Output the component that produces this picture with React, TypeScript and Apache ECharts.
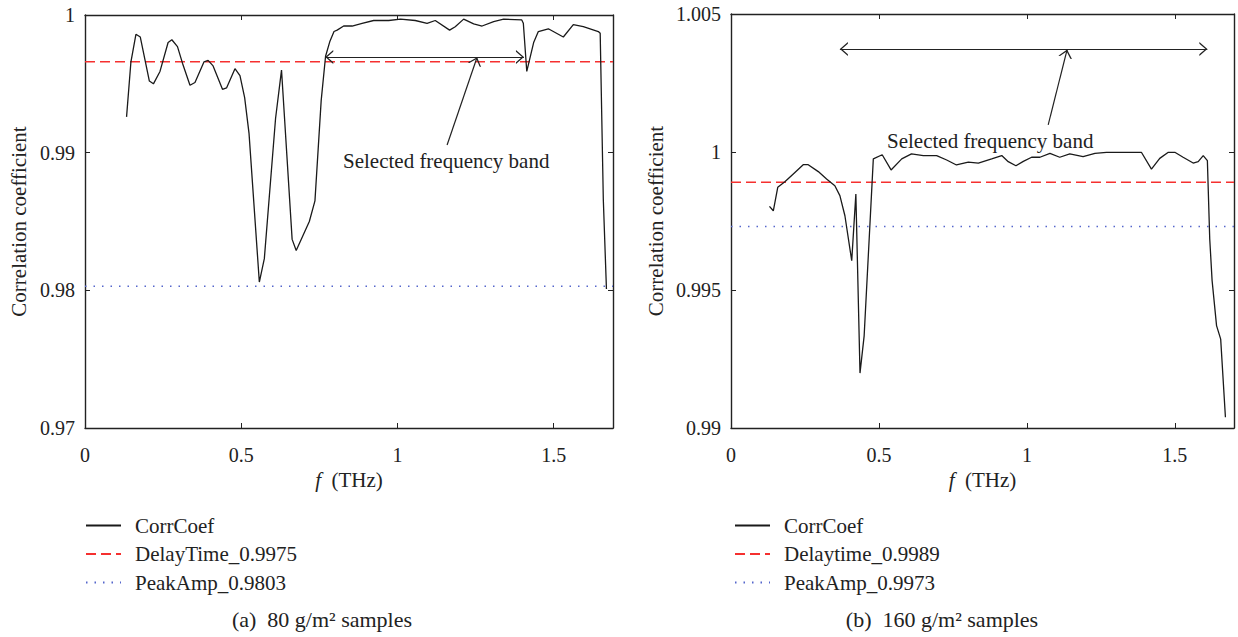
import React, { useEffect, useRef } from "react";
import * as echarts from "echarts";

// ---------- data (a) 80 g/m2 ----------
const leftFreq = [
  0.133, 0.147, 0.163, 0.177, 0.206, 0.219, 0.24, 0.266, 0.278, 0.296, 0.312, 0.336, 0.352, 0.381, 0.394,
  0.41, 0.44, 0.453, 0.48, 0.496, 0.511, 0.525, 0.558, 0.574, 0.61, 0.629, 0.663, 0.676, 0.718, 0.736,
  0.756, 0.77, 0.784, 0.797, 0.807, 0.828, 0.855, 0.887, 0.924, 0.972, 1.01, 1.057, 1.095, 1.121, 1.167,
  1.185, 1.212, 1.244, 1.271, 1.308, 1.34, 1.398, 1.403, 1.414, 1.436, 1.451, 1.483, 1.531, 1.563, 1.595,
  1.643, 1.649, 1.659, 1.669,
];
const leftCorr = [
  0.9926, 0.9966, 0.9986, 0.9984, 0.9952, 0.995, 0.9959, 0.998, 0.9982, 0.9977, 0.9965, 0.9949, 0.9951, 0.9966, 0.9967,
  0.9963, 0.9946, 0.9947, 0.9961, 0.9956, 0.994, 0.9914, 0.9806, 0.9823, 0.9925, 0.996, 0.9837, 0.9829, 0.985, 0.9865,
  0.9938, 0.997, 0.9981, 0.9988, 0.9989, 0.9992, 0.9992, 0.9994, 0.9996, 0.9996, 0.9997, 0.9996, 0.9994, 0.9996, 0.9989,
  0.99915, 0.9997, 0.99935, 0.9992, 0.99952, 0.9997, 0.99964, 0.9994, 0.9959, 0.998, 0.9988, 0.999, 0.9984, 0.9993, 0.99915,
  0.9988, 0.99867, 0.9866, 0.9801,
];
const leftNames = ["CorrCoef", "DelayTime_0.9975", "PeakAmp_0.9803"];
const leftDelayLevel = 0.9966;
const leftPeakLevel = 0.9803;
const leftXMax = 1.69;
const leftYMin = 0.97;
const leftYMax = 1;
const leftYStep = 0.01;
const leftBand = [0.769, 1.405];
const leftBandLevel = 0.99695;
const leftPointerFrom = [1.159, 0.99056];
const leftPointerTo = [1.255, 0.99693];

// ---------- data (b) 160 g/m2 ----------
const rightFreq = [
  0.13, 0.143, 0.158, 0.182, 0.216, 0.244, 0.261, 0.295, 0.323, 0.351, 0.368, 0.385, 0.408, 0.422, 0.436,
  0.45, 0.467, 0.481, 0.511, 0.541, 0.577, 0.61, 0.65, 0.695, 0.729, 0.762, 0.802, 0.836, 0.881, 0.915,
  0.937, 0.963, 0.988, 1.016, 1.044, 1.078, 1.111, 1.145, 1.19, 1.23, 1.269, 1.387, 1.421, 1.449, 1.478,
  1.5, 1.528, 1.562, 1.579, 1.596, 1.61, 1.618, 1.626, 1.641, 1.655, 1.671,
];
const rightCorr = [
  0.99803, 0.99787, 0.99872, 0.99892, 0.99926, 0.99954, 0.99954, 0.99929, 0.99902, 0.99878, 0.99842, 0.99769, 0.99606, 0.99848, 0.99199,
  0.99334, 0.99685, 0.99975, 0.9999, 0.99935, 0.99975, 0.99993, 0.99987, 0.99987, 0.99971, 0.99953, 0.99963, 0.9996, 0.99975, 0.99987,
  0.99965, 0.9995, 0.99966, 0.99981, 0.99981, 0.99995, 0.99981, 0.99993, 0.99983, 0.99995, 0.99999, 0.99999, 0.99938, 0.99977, 0.99999,
  0.99999, 0.99981, 0.9996, 0.99965, 0.99987, 0.99969, 0.99685, 0.99534, 0.99371, 0.99322, 0.99039,
];
const rightNames = ["CorrCoef", "Delaytime_0.9989", "PeakAmp_0.9973"];
const rightDelayLevel = 0.9989;
const rightPeakLevel = 0.9973;
const rightXMax = 1.7;
const rightYMin = 0.99;
const rightYMax = 1.005;
const rightYStep = 0.005;
const rightBand = [0.368, 1.61];
const rightBandLevel = 1.00373;
const rightPointerFrom = [1.072, 1.00098];
const rightPointerTo = [1.136, 1.00371];

const xStep = 0.5;
const annotationText = "Selected frequency band";
const captionA = "(a)  80 g/m² samples";
const captionB = "(b)  160 g/m² samples";
const yTitle = "Correlation coefficient";

const FONT = "'Liberation Serif', 'DejaVu Serif', serif";
const INK = "#222222";
const CHEVRON = "path://M5,0L5.01,0Z M5,10 L10,20 L8.8,20 L5,12.4 L1.2,20 L0,20 Z";

const zip = (xs: number[], ys: number[]) => xs.map((x, i) => [x, ys[i]]);

function xAxes(gridIndex: number, max: number) {
  const base = {
    gridIndex,
    type: "value",
    min: 0,
    max,
    interval: xStep,
    splitLine: { show: false },
    axisLine: { show: true, onZero: false, lineStyle: { color: INK, width: 1.4 } },
    axisTick: { show: true, inside: true, length: 5, lineStyle: { color: INK, width: 1 } },
  };
  return [
    {
      ...base,
      position: "bottom",
      axisLabel: {
        show: true,
        showMaxLabel: false,
        margin: 17,
        color: INK,
        fontFamily: FONT,
        fontSize: 20,
        formatter: (v: number) => {
          const k = v / xStep;
          return Math.abs(k - Math.round(k)) < 1e-6 ? String(+v.toFixed(2)) : "";
        },
      },
      name: "{i|f}  (THz)",
      nameLocation: "middle",
      nameGap: 38,
      nameTextStyle: {
        color: INK,
        fontFamily: FONT,
        fontSize: 21,
        rich: { i: { fontStyle: "italic", fontFamily: FONT, fontSize: 21, color: INK } },
      },
    },
    { ...base, position: "top", axisLabel: { show: false } },
  ];
}

function yAxes(gridIndex: number, min: number, max: number, step: number, nameGap: number) {
  const base = {
    gridIndex,
    type: "value",
    min,
    max,
    interval: step,
    scale: true,
    splitLine: { show: false },
    axisLine: { show: true, onZero: false, lineStyle: { color: INK, width: 1.4 } },
    axisTick: { show: true, inside: true, length: 5, lineStyle: { color: INK, width: 1 } },
  };
  return [
    {
      ...base,
      position: "left",
      axisLabel: {
        show: true,
        margin: 10,
        color: INK,
        fontFamily: FONT,
        fontSize: 20,
        formatter: (v: number) => String(+v.toFixed(4)),
      },
      name: yTitle,
      nameLocation: "middle",
      nameGap,
      nameTextStyle: { color: INK, fontFamily: FONT, fontSize: 21 },
    },
    { ...base, position: "right", axisLabel: { show: false } },
  ];
}

function panelSeries(
  axisIndex: number,
  names: string[],
  freq: number[],
  corr: number[],
  delay: number,
  peak: number,
  xMax: number,
  band: number[],
  bandLevel: number,
  pFrom: number[],
  pTo: number[]
) {
  return [
    {
      name: names[0],
      type: "line",
      xAxisIndex: axisIndex,
      yAxisIndex: axisIndex,
      data: zip(freq, corr),
      symbol: "none",
      lineStyle: { color: "#1a1a1a", width: 1.3 },
      itemStyle: { color: "#1a1a1a" },
      z: 5,
      markLine: {
        silent: true,
        animation: false,
        symbolSize: [14, 16],
        lineStyle: { color: INK, width: 1.2, type: "solid" },
        label: { show: false },
        emphasis: { disabled: true },
        data: [
          [
            { coord: [band[0], bandLevel], symbol: CHEVRON },
            { coord: [band[1], bandLevel], symbol: CHEVRON },
          ],
          [
            { coord: pFrom, symbol: "none" },
            { coord: pTo, symbol: CHEVRON },
          ],
        ],
      },
    },
    {
      name: names[1],
      type: "line",
      xAxisIndex: axisIndex,
      yAxisIndex: axisIndex,
      data: [
        [0, delay],
        [xMax, delay],
      ],
      symbol: "none",
      lineStyle: { color: "#f5302f", width: 1.5, type: [10, 5] },
      itemStyle: { color: "#f5302f" },
      z: 3,
    },
    {
      name: names[2],
      type: "line",
      xAxisIndex: axisIndex,
      yAxisIndex: axisIndex,
      data: [
        [0, peak],
        [xMax, peak],
      ],
      symbol: "none",
      lineStyle: { color: "#5566cc", width: 1.5, type: [1.5, 7] },
      itemStyle: { color: "#5566cc" },
      z: 3,
    },
  ];
}

function legend(left: number, names: string[]) {
  return {
    left,
    top: 515,
    orient: "vertical",
    padding: 0,
    itemWidth: 35,
    itemHeight: 20,
    itemGap: 7.5,
    selectedMode: false,
    data: names,
    itemStyle: { opacity: 0 },
    textStyle: { color: INK, fontFamily: FONT, fontSize: 21, lineHeight: 20, padding: [0, 0, 0, 9] },
  };
}

export default function App() {
  const ref = useRef<HTMLDivElement>(null);
  useEffect(() => {
    if (!ref.current) return;
    const chart = echarts.init(ref.current, undefined, { renderer: "svg" });
    const ax0 = xAxes(0, leftXMax);
    const ax1 = xAxes(1, rightXMax);
    const ay0 = yAxes(0, leftYMin, leftYMax, leftYStep, 56);
    const ay1 = yAxes(1, rightYMin, rightYMax, rightYStep, 65);
    chart.setOption({
      animation: false,
      backgroundColor: "#ffffff",
      textStyle: { fontFamily: FONT },
      grid: [
        { left: 85, top: 15, width: 528, height: 413 },
        { left: 731, top: 14, width: 503, height: 414 },
      ],
      xAxis: [...ax0, ...ax1],
      yAxis: [...ay0, ...ay1],
      legend: [legend(85, leftNames), legend(734, rightNames)],
      series: [
        ...panelSeries(0, leftNames, leftFreq, leftCorr, leftDelayLevel, leftPeakLevel, leftXMax, leftBand, leftBandLevel, leftPointerFrom, leftPointerTo),
        ...panelSeries(2, rightNames, rightFreq, rightCorr, rightDelayLevel, rightPeakLevel, rightXMax, rightBand, rightBandLevel, rightPointerFrom, rightPointerTo),
      ],
      graphic: [
        {
          type: "text",
          x: 343,
          y: 161,
          style: { text: annotationText, fill: INK, font: `21px ${FONT}`, textVerticalAlign: "middle" },
        },
        {
          type: "text",
          x: 887,
          y: 141,
          style: { text: annotationText, fill: INK, font: `21px ${FONT}`, textVerticalAlign: "middle" },
        },
        {
          type: "text",
          x: 322,
          y: 619,
          style: { text: captionA, fill: INK, font: `22px ${FONT}`, textAlign: "center", textVerticalAlign: "middle" },
        },
        {
          type: "text",
          x: 942,
          y: 619,
          style: { text: captionB, fill: INK, font: `22px ${FONT}`, textAlign: "center", textVerticalAlign: "middle" },
        },
      ],
    });
    return () => chart.dispose();
  }, []);
  return (
    <div
      ref={ref}
      style={{ position: "fixed", left: 0, top: 0, width: 1238, height: 637, background: "#fff" }}
    />
  );
}
